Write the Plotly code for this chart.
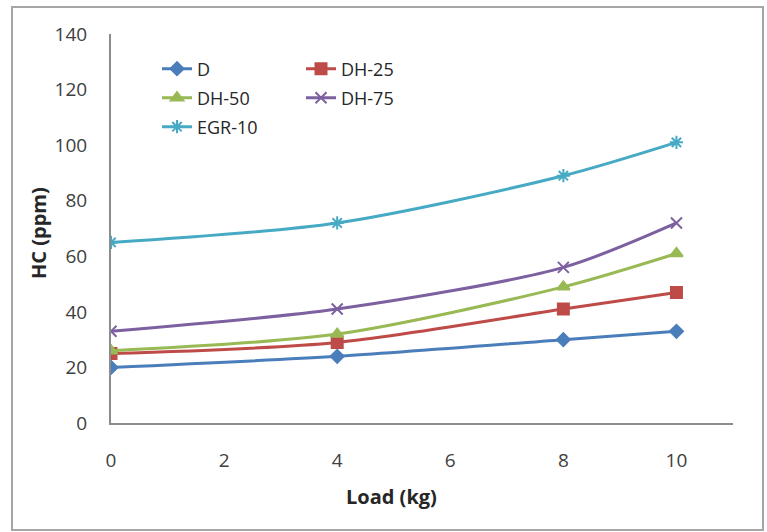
import plotly.graph_objects as go

load = [0, 4, 8, 10]
series_names = ["D", "DH-25", "DH-50", "DH-75", "EGR-10"]
d_vals = [20, 24, 30, 33]
dh25_vals = [25, 29, 41, 47]
dh50_vals = [26, 32, 49, 61]
dh75_vals = [33, 41, 56, 72]
egr10_vals = [65, 72, 89, 101]
x_ticks = [0, 2, 4, 6, 8, 10]
y_ticks = [0, 20, 40, 60, 80, 100, 120, 140]

values = [d_vals, dh25_vals, dh50_vals, dh75_vals, egr10_vals]
colors = ["#4A7EBB", "#BE4B48", "#98B954", "#7D60A0", "#46AAC5"]
symbols = ["diamond", "square", "triangle-up", "x-thin-open", "asterisk-open"]
sizes = [10, 11, 11, 11, 11]
legends = ["legend", "legend", "legend2", "legend2", "legend3"]

fig = go.Figure()
for name, vals, c, s, sz, lg in zip(series_names, values, colors, symbols, sizes, legends):
    fig.add_trace(go.Scatter(
        x=load, y=vals, name=name, mode="lines+markers",
        line=dict(color=c, width=3, shape="spline", smoothing=0.8),
        marker=dict(symbol=s, size=sz, color=c, line=dict(color=c, width=2)),
        legend=lg,
    ))

W, H = 767, 532
L, R, T, B = 111, 34, 34, 109
pw, ph = W - L - R, H - T - B

def px(xp):
    return (xp - L) / pw

def py(yp):
    return (H - B - yp) / ph

font = "Open Sans, Liberation Sans, sans-serif"
legfont = dict(family=font, size=18, color="#262626")
common_leg = dict(orientation="h", xanchor="left", yanchor="middle", font=legfont,
                  bgcolor="rgba(0,0,0,0)", entrywidth=99, entrywidthmode="pixels",
                  itemwidth=30, tracegroupgap=0)

fig.update_layout(
    width=W, height=H,
    margin=dict(l=L, r=R, t=T, b=B),
    paper_bgcolor="white", plot_bgcolor="white",
    showlegend=True,
    legend=dict(x=px(157), y=py(69), **common_leg),
    legend2=dict(x=px(157), y=py(98), **common_leg),
    legend3=dict(x=px(157), y=py(127), **common_leg),
    xaxis=dict(range=[0, 11], tickvals=x_ticks, showgrid=False, zeroline=False,
               showline=True, linecolor="#8C8C8C", linewidth=2,
               ticks="", tickfont=dict(family=font, size=19, color="#404040"),
               ticklabelstandoff=19),
    yaxis=dict(range=[0, 140], tickvals=y_ticks, showgrid=False, zeroline=False,
               showline=True, linecolor="#8C8C8C", linewidth=2,
               ticks="", tickfont=dict(family=font, size=19, color="#404040"),
               ticklabelstandoff=18),
    shapes=[dict(type="rect", xref="paper", yref="paper",
                 x0=px(12), x1=px(763), y0=py(530), y1=py(7),
                 line=dict(color="#A6A6A6", width=2), layer="below")],
    annotations=[
        dict(text="<b>Load (kg)</b>", xref="paper", yref="paper",
             x=px(391), y=py(497), xanchor="center", yanchor="middle", showarrow=False,
             font=dict(family=font, size=20, color="#262626")),
        dict(text="<b>HC (ppm)</b>", xref="paper", yref="paper",
             x=px(38), y=py(233), xanchor="center", yanchor="middle", showarrow=False,
             textangle=-90,
             font=dict(family=font, size=20, color="#262626")),
    ],
)

fig.write_html("out.html")
